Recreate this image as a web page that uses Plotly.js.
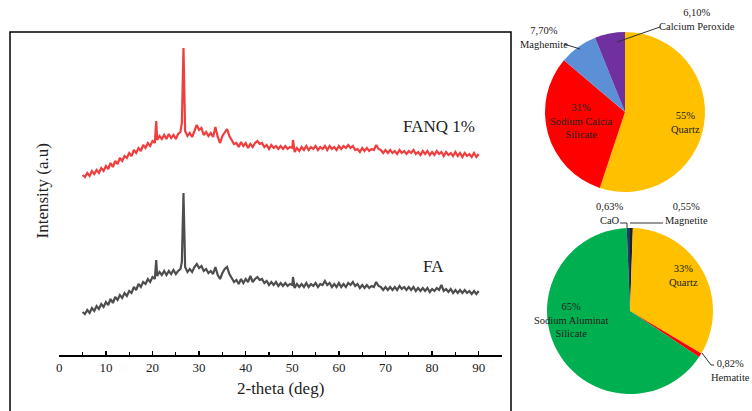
<!DOCTYPE html>
<html>
<head>
<meta charset="utf-8">
<script src="https://cdn.plot.ly/plotly-3.0.1.min.js"></script>
<style>html,body{margin:0;padding:0;background:#fff;}#chart{width:752px;height:411px;}</style>
</head>
<body>
<div id="chart"></div>
<script>
// ---- XRD data (2-theta in degrees, intensity in arbitrary units) ----
const twoTheta = [
5,5.5,6,6.5,7,7.5,8,8.5,9,9.5,10,10.5,11,11.5,12,12.5,13,13.5,14,14.5,15,15.5,16,16.5,17,17.5,18,18.5,19,19.5,20,20.5,
20.8,
21,21.5,22,22.5,23,23.5,24,24.5,25,25.5,26,
26.3,26.65,
27,27.5,28,28.5,29,29.5,30,30.5,31,31.5,32,32.5,33,33.5,34,34.5,35,35.5,36,36.5,37,37.5,38,38.5,39,39.5,40,40.5,41,41.5,42,42.5,43,43.5,44,44.5,45,45.5,46,46.5,47,47.5,48,48.5,49,49.5,50,
50.15,
50.5,51,51.5,52,52.5,53,53.5,54,54.5,55,55.5,56,56.5,57,57.5,58,58.5,59,59.5,60,60.5,61,61.5,62,62.5,63,63.5,64,64.5,65,65.5,66,66.5,67,67.5,68,68.5,69,69.5,70,70.5,71,71.5,72,72.5,73,73.5,74,74.5,75,75.5,76,76.5,77,77.5,78,78.5,79,79.5,80,80.5,81,81.5,82,82.5,83,83.5,84,84.5,85,85.5,86,86.5,87,87.5,88,88.5,89,89.5,90
];
const fanq1 = [
180,178,182,179,184,181,185,182,187,184,189,186,192,188,194,191,197,194,199,197,202,199,205,202,207,204,210,207,212,209,214,212,
234,
215,219,216,220,216,221,217,220,216,221,223,
232,307,
224,219,222,218,224,230,225,227,220,223,219,222,218,228,218,212,219,223,226,219,215,211,212,208,213,209,212,207,211,208,212,214,211,212,208,210,206,210,207,209,206,209,206,209,206,208,207,
215,
203,207,204,208,205,209,205,208,206,209,205,208,206,209,205,209,206,208,205,209,206,209,207,210,207,209,205,206,203,207,204,207,204,206,205,210,206,205,202,205,202,205,202,204,201,205,202,204,201,204,202,205,201,203,200,204,201,204,200,203,200,204,201,203,199,203,200,202,199,203,199,202,198,202,199,201,198,202,198,201
];
const fa = [
43,41,45,42,47,44,49,46,51,48,53,50,56,52,58,55,60,57,62,59,64,62,68,65,71,68,73,71,76,73,78,76,
95,
79,83,80,84,80,84,81,85,81,84,86,
93,162,
88,83,86,83,88,91,87,89,84,86,82,84,81,88,80,76,82,86,88,81,77,73,75,71,76,72,76,73,79,73,76,78,75,76,72,74,70,73,70,73,69,72,69,72,69,71,70,
78,
67,71,68,71,68,72,68,71,69,72,68,71,70,74,70,72,68,71,68,72,68,71,68,72,70,73,69,71,67,70,67,70,67,69,68,73,69,68,65,68,65,68,65,68,65,69,66,68,65,68,65,68,64,67,64,67,64,67,63,66,64,67,65,70,64,66,63,66,62,65,62,65,62,65,62,64,61,64,61,64
];
const xTicks = [0,10,20,30,40,50,60,70,80,90];
const seriesNames = ["FANQ 1%", "FA"];

// ---- Phase composition (pie charts) ----
const phasesTop = ["Quartz", "Sodium Calcia<br>Silicate", "Maghemite", "Calcium Peroxide"];
const valuesTop = [55, 31, 7.7, 6.1];
const colorsTop = ["#FFC000", "#FF0000", "#5B8FD6", "#7030A0"];

const phasesBottom = ["Magnetite", "Quartz", "Hematite", "Sodium Aluminat<br>Silicate", "CaO"];
const valuesBottom = [0.55, 33, 0.82, 65, 0.63];
const colorsBottom = ["#1F1F1F", "#FFC000", "#FF0000", "#00B050", "#1F3864"];

function pct(v){ return v >= 10 ? Math.round(v) + "%" : v.toFixed(2).replace(".", ",") + "%"; }
const W = 752, H = 411;
function px(x){ return x / W; }
function py(y){ return 1 - y / H; }

const serif = "'Liberation Serif', 'Times New Roman', Times, serif";

const traces = [
  {x: twoTheta, y: fanq1, type: "scatter", mode: "lines", name: seriesNames[0],
   line: {color: "rgb(240,62,62)", width: 2.2}, hoverinfo: "skip", xaxis: "x", yaxis: "y"},
  {x: twoTheta, y: fa, type: "scatter", mode: "lines", name: seriesNames[1],
   line: {color: "rgb(78,78,78)", width: 2.2}, hoverinfo: "skip", xaxis: "x", yaxis: "y"},
  {type: "pie", labels: phasesTop, values: valuesTop, marker: {colors: colorsTop, line: {width: 0}},
   sort: false, direction: "clockwise", rotation: 0, textinfo: "none", hoverinfo: "skip",
   domain: {x: [px(545), px(705)], y: [py(192), py(32)]}},
  {type: "pie", labels: phasesBottom, values: valuesBottom, marker: {colors: colorsBottom, line: {width: 0}},
   sort: false, direction: "clockwise", rotation: 0, textinfo: "none", hoverinfo: "skip",
   domain: {x: [px(547), px(713)], y: [py(394), py(228)]}}
];

function pieLabel(txt, x, y){
  return {xref: "paper", yref: "paper", x: px(x), y: py(y), text: txt, showarrow: false,
          font: {family: serif, size: 10.5, color: "#222"}, xanchor: "center", yanchor: "middle", align: "center"};
}
const annotations = [
  {xref: "x", yref: "y", x: 81.5, y: 229, text: seriesNames[0], showarrow: false,
   font: {family: serif, size: 17, color: "#222"}},
  {xref: "x", yref: "y", x: 80.3, y: 89, text: seriesNames[1], showarrow: false,
   font: {family: serif, size: 17, color: "#222"}},
  {xref: "paper", yref: "paper", x: px(30), y: py(191), text: "Intensity (a.u)", textangle: -90,
   showarrow: false, font: {family: serif, size: 17, color: "#222"}},
  pieLabel(pct(valuesTop[0]) + "<br>" + phasesTop[0], 685, 122),
  pieLabel(pct(valuesTop[1]) + "<br>" + phasesTop[1], 581, 121),
  pieLabel(pct(valuesTop[2]) + "<br>" + phasesTop[2], 544, 37),
  pieLabel(pct(valuesTop[3]) + "<br>" + phasesTop[3], 697, 19),
  pieLabel(pct(valuesBottom[0]) + "<br>" + phasesBottom[0], 686, 213),
  pieLabel(pct(valuesBottom[1]) + "<br>" + phasesBottom[1], 683, 275),
  pieLabel(pct(valuesBottom[2]) + "<br>" + phasesBottom[2], 730, 370),
  pieLabel(pct(valuesBottom[3]) + "<br>" + phasesBottom[3], 571, 320),
  pieLabel(pct(valuesBottom[4]) + "<br>" + phasesBottom[4], 609, 213)
];

function seg(x0, y0, x1, y1, w){
  return {type: "line", xref: "paper", yref: "paper", x0: px(x0), y0: py(y0), x1: px(x1), y1: py(y1),
          line: {color: "#333", width: w || 1}};
}
const shapes = [
  {type: "rect", xref: "paper", yref: "paper", x0: px(10), x1: px(511), y0: py(420), y1: py(32),
   line: {color: "#000", width: 1.5}, fillcolor: "rgba(0,0,0,0)", layer: "below"},
  seg(564, 44, 580, 49),
  seg(660, 27, 617, 42),
  seg(620, 223, 627, 223), seg(627, 223, 627, 228),
  seg(663, 223, 630, 223),
  seg(702, 353, 711, 365), seg(711, 365, 714, 365)
];

const layout = {
  width: W, height: H,
  margin: {l: 0, r: 0, t: 0, b: 0},
  paper_bgcolor: "#fff", plot_bgcolor: "rgba(0,0,0,0)",
  showlegend: false,
  font: {family: serif, color: "#222"},
  xaxis: {
    domain: [px(59.3), px(502)], range: [0, 95],
    tickvals: xTicks, ticktext: xTicks.map(String),
    ticks: "inside", ticklen: 4, tickwidth: 1.3, tickcolor: "#000",
    minor: {dtick: 5, tick0: 0, ticks: "inside", ticklen: 3, tickwidth: 1.2, tickcolor: "#000"},
    showline: true, linecolor: "#000", linewidth: 1.5, showgrid: false, zeroline: false,
    tickfont: {family: serif, size: 13, color: "#222"},
    title: {text: "2-theta (deg)", font: {family: serif, size: 17, color: "#222"}, standoff: 8},
    anchor: "y", fixedrange: true
  },
  yaxis: {
    domain: [py(355), py(40)], range: [0, 315],
    visible: false, showgrid: false, zeroline: false, fixedrange: true
  },
  annotations: annotations,
  shapes: shapes
};

Plotly.newPlot("chart", traces, layout, {displayModeBar: false, staticPlot: true});
</script>
</body>
</html>
